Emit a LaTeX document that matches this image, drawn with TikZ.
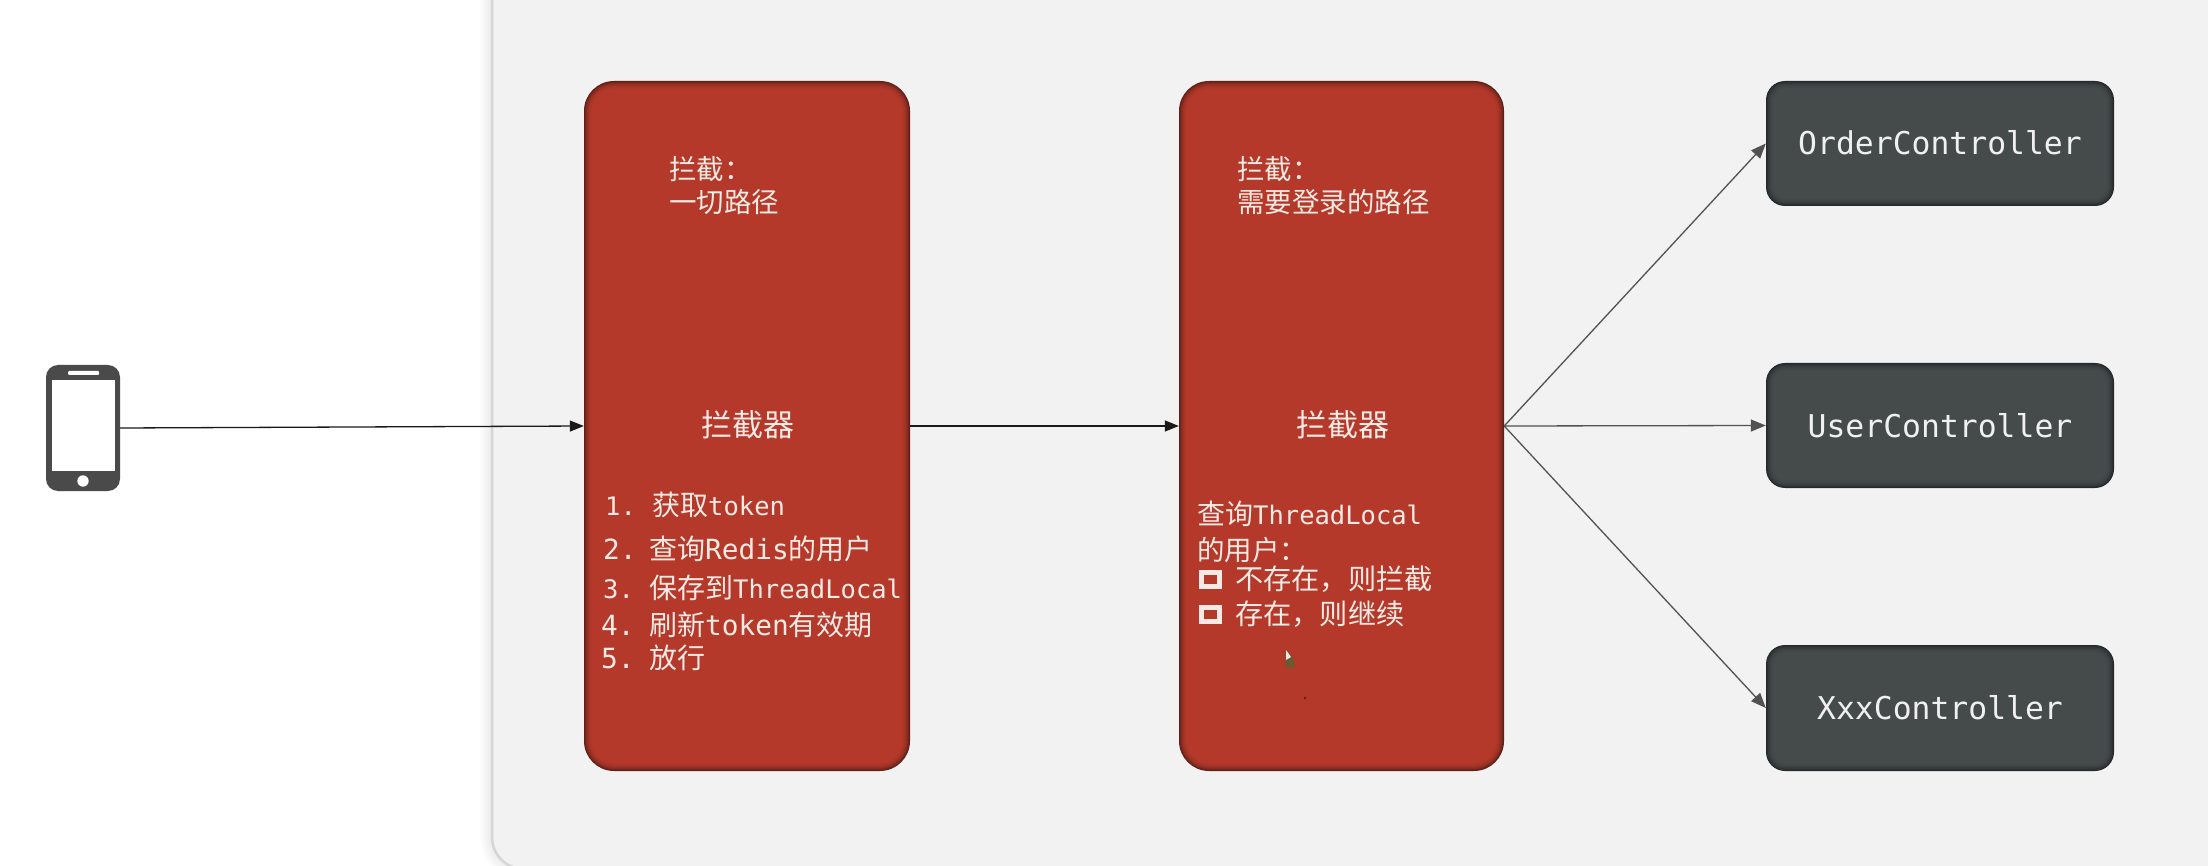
\documentclass[tikz,border=0pt]{standalone}
\usepackage{fontspec}
\usetikzlibrary{arrows.meta}
\setmainfont{DejaVu Sans Mono}
\newfontfamily\cjk{Noto Sans CJK SC}
\newfontfamily\ctlfont{DejaVu Sans Mono}
\definecolor{panelbg}{HTML}{F2F2F2}
\definecolor{redbase}{HTML}{B4392A}
\definecolor{rededge}{HTML}{5E2018}
\definecolor{darkbase}{HTML}{454A4B}
\definecolor{darkedge}{HTML}{25292B}
\definecolor{lbltext}{HTML}{F7E9E3}
\definecolor{phonegray}{HTML}{4A4A4A}
\definecolor{cursorbrown}{HTML}{6B5A2E}
% name, x1, y1, x2, y2, base colour, edge colour, radius, node text
\newcommand{\softbox}[9]{%
  \foreach \i/\p in {0/100,1/75,2/55,3/38,4/26,5/16,6/9,7/4,8/0}{%
    \fill[{#7!\p!#6},rounded corners={(#8-\i)*1pt}] ({#2+\i},{#3+\i}) rectangle ({#4-\i},{#5-\i});
  }
  \node[ctlbox,minimum width={(#4-#2)*1pt},minimum height={(#5-#3)*1pt}] (#1) at ({(#2+#4)/2},{(#3+#5)/2}) {#9};
}
\tikzset{
  x=1pt,y=-1pt,
  ctlbox/.style={inner sep=0pt,text=white!94!black,font=\ctlfont\fontsize{31.4}{32}\selectfont,text height=23pt,text depth=0pt},
  lbl/.style={inner sep=0pt,anchor=west,text=lbltext,font=\fontsize{25.5}{27}\selectfont,text height=21pt,text depth=0pt},
  wide/.style={lbl,font=\fontsize{27.8}{27}\selectfont},
  zh/.style={lbl,font=\cjk\fontsize{27.5}{27}\selectfont},
  zhb/.style={lbl,font=\cjk\fontsize{28.2}{27}\selectfont},
  title/.style={lbl,anchor=center,font=\cjk\fontsize{31}{30}\selectfont,text height=23pt},
  link/.style={line width=1.3pt,black!90,-{Triangle[length=14pt,width=11pt]}},
  fan/.style={line width=1.3pt,black!68,-{Triangle[length=15pt,width=12pt]}},
  tick/.style={draw=lbltext,line width=5pt,fill=redbase},
}
\newcommand{\zh}[1]{{\cjk\fontsize{28}{27}\selectfont #1}}
\begin{document}
\begin{tikzpicture}
\useasboundingbox (0,0) rectangle (2208,866);
\clip (0,0) rectangle (2208,866);
\fill[white] (0,0) rectangle (2208,866);
% panel with soft shadow
\foreach \i in {12,10,...,2}{
  \draw[black,opacity=0.012,line width={\i*2pt},rounded corners=32pt] (492,-60) -- (492,869) -- (2300,869);
}
\draw[black!16,line width=2.5pt,fill=panelbg,rounded corners=32pt] (492,-60) -- (492,869) -- (2300,869) -- (2300,-60) -- cycle;

% phone
\node[fill=phonegray,rounded corners=12pt,inner sep=0pt,minimum width=74pt,minimum height=126pt] (phone) at (83,428) {};
\fill[white] (52,380) rectangle (115,471);
\fill[white,rounded corners=1pt] (68,371) rectangle (99,375);
\fill[white] (83,481) circle (5.7);

% interceptors
\softbox{boxa}{584}{81}{910}{771}{redbase}{rededge}{30}{}
\softbox{boxb}{1179}{81}{1504}{771}{redbase}{rededge}{30}{}

% controllers
\softbox{order}{1766}{81}{2114}{206}{darkbase}{darkedge}{19}{OrderController}
\softbox{user}{1766}{363}{2114}{488}{darkbase}{darkedge}{19}{UserController}
\softbox{xxx}{1766}{645}{2114}{771}{darkbase}{darkedge}{19}{XxxController}

% first interceptor text
\node[zh] (a1) at (669,169) {拦截：};
\node[zh] (a2) at (669,202) {一切路径};
\node[title] (a3) at (748,425) {拦截器};
\node[lbl] (an1) at (605,505) {1.};
\node[lbl] (at1) at (652,505) {\zh{获取}token};
\node[wide] (an2) at (603,549) {2.};
\node[wide] (at2) at (649,549) {\zh{查询}Redis\zh{的用户}};
\node[lbl] (an3) at (603,588) {3.};
\node[lbl] (at3) at (649,588) {\zh{保存到}ThreadLocal};
\node[wide] (an4) at (601,625) {4.};
\node[wide] (at4) at (649,625) {\zh{刷新}token\zh{有效期}};
\node[wide] (an5) at (601,658) {5.};
\node[wide] (at5) at (649,658) {\zh{放行}};

% second interceptor text
\node[zh] (b1) at (1237,169) {拦截：};
\node[zh] (b2) at (1237,202) {需要登录的路径};
\node[title] (b3) at (1343,425) {拦截器};
\node[lbl] (b4) at (1197,514) {\zh{查询}ThreadLocal};
\node[zh] (b5) at (1197,550) {的用户：};
\draw[tick] (1201.5,572.5) rectangle (1219.5,586);
\node[zhb] (b6) at (1235,579) {不存在，则拦截};
\draw[tick] (1201.5,607.5) rectangle (1219.5,621);
\node[zhb] (b7) at (1235,614) {存在，则继续};

% small marks inside the second box
\fill[cursorbrown] (1285,650) -- (1293,658) -- (1295,667) -- (1286,668) -- cycle;
\fill[lbltext] (1286,650) -- (1291,657) -- (1286,660) -- cycle;
\fill[rededge] (1305,698) circle (1.4);

% connectors
\draw[link] (phone.east) -- (boxa.west);
\draw[link] (boxa.east) -- (boxb.west);
\draw[fan] (boxb.east) -- (order.west);
\draw[fan] (boxb.east) -- (user.west);
\draw[fan] (boxb.east) -- (xxx.west);
\end{tikzpicture}
\end{document}
